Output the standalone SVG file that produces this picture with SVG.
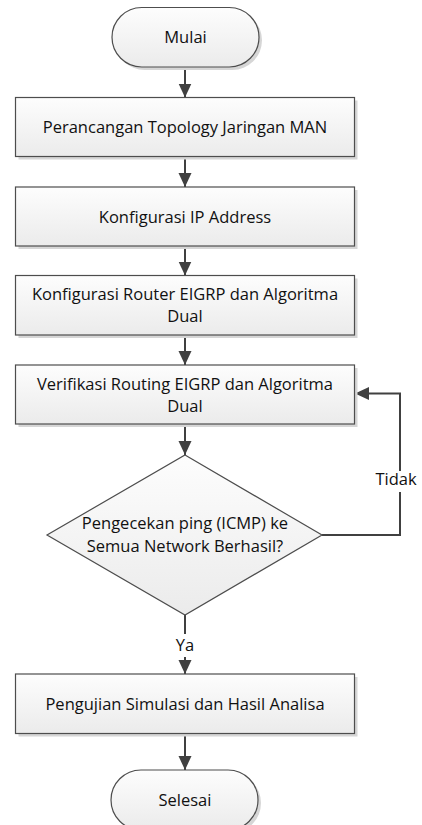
<svg xmlns="http://www.w3.org/2000/svg" width="422" height="825" viewBox="0 0 422 825">
  <style>
    .lbl { font-family: "Open Sans", "Noto Sans", "Liberation Sans", sans-serif; font-size: 16.5px; fill: #111111; text-anchor: middle; }
    .box { fill: url(#fillGrad); stroke: #4d4d4d; stroke-width: 1.2; }
    .shadow { fill: #d6d6d6; }
    .edge { fill: none; stroke: #404040; stroke-width: 2; }
  </style>
  <defs>
    <linearGradient id="fillGrad" x1="0" y1="0" x2="0" y2="1">
      <stop offset="0" stop-color="#fdfdfd"/>
      <stop offset="1" stop-color="#ebebeb"/>
    </linearGradient>
    <marker id="arrow" markerUnits="userSpaceOnUse" markerWidth="14" markerHeight="14" viewBox="0 0 14 14" refX="14" refY="7" orient="auto">
      <path d="M0,0.5 L14,7 L0,13.5 Z" fill="#404040"/>
    </marker>
  </defs>
  <rect width="422" height="825" fill="#ffffff"/>

  <!-- connectors -->
  <g id="connectors">
    <path class="edge" d="M185 67 V97.5" marker-end="url(#arrow)"/>
    <path class="edge" d="M185 156.5 V187" marker-end="url(#arrow)"/>
    <path class="edge" d="M185 246 V275.5" marker-end="url(#arrow)"/>
    <path class="edge" d="M185 335 V365" marker-end="url(#arrow)"/>
    <path class="edge" d="M185 424 V455" marker-end="url(#arrow)"/>
    <path class="edge" d="M185 615 V634 M185 657 V674" marker-end="url(#arrow)"/>
    <path class="edge" d="M185 734 V770" marker-end="url(#arrow)"/>
    <path class="edge" d="M322 535 H400 V492 M400 471 V393.5 H355" marker-end="url(#arrow)"/>
    <text class="lbl" x="185" y="651">Ya</text>
    <text class="lbl" x="396" y="485">Tidak</text>
  </g>

  <g id="start">
    <rect class="shadow" x="115" y="10.5" width="147" height="59.5" rx="29.75"/>
    <rect class="box" x="112" y="7.5" width="147" height="59.5" rx="29.75"/>
    <text class="lbl" x="185.5" y="43">Mulai</text>
  </g>

  <g id="step-topology">
    <rect class="shadow" x="18.5" y="100.5" width="339" height="59"/>
    <rect class="box" x="15.5" y="97.5" width="339" height="59"/>
    <text class="lbl" x="185" y="133">Perancangan Topology Jaringan MAN</text>
  </g>

  <g id="step-ip">
    <rect class="shadow" x="18.5" y="190" width="339" height="59"/>
    <rect class="box" x="15.5" y="187" width="339" height="59"/>
    <text class="lbl" x="185" y="222.5">Konfigurasi IP Address</text>
  </g>

  <g id="step-router">
    <rect class="shadow" x="18.5" y="278.5" width="339" height="59.5"/>
    <rect class="box" x="15.5" y="275.5" width="339" height="59.5"/>
    <text class="lbl" x="185" y="299.5">Konfigurasi Router EIGRP dan Algoritma</text>
    <text class="lbl" x="185" y="322">Dual</text>
  </g>

  <g id="step-verify">
    <rect class="shadow" x="18.5" y="368" width="339" height="59"/>
    <rect class="box" x="15.5" y="365" width="339" height="59"/>
    <text class="lbl" x="185" y="389.5">Verifikasi Routing EIGRP dan Algoritma</text>
    <text class="lbl" x="185" y="412">Dual</text>
  </g>

  <g id="decision-ping">
    <path class="box" d="M185 455 L322 535 L185 615 L47 535 Z"/>
    <text class="lbl" x="185" y="529">Pengecekan ping (ICMP) ke</text>
    <text class="lbl" x="185" y="551.5">Semua Network Berhasil?</text>
  </g>

  <g id="step-test">
    <rect class="shadow" x="18.5" y="677" width="339" height="59.5"/>
    <rect class="box" x="15.5" y="674" width="339" height="59.5"/>
    <text class="lbl" x="185" y="710">Pengujian Simulasi dan Hasil Analisa</text>
  </g>

  <g id="end">
    <rect class="shadow" x="114" y="773" width="147" height="60" rx="30"/>
    <rect class="box" x="111" y="770" width="147" height="60" rx="30"/>
    <text class="lbl" x="185" y="805.5">Selesai</text>
  </g>
</svg>
